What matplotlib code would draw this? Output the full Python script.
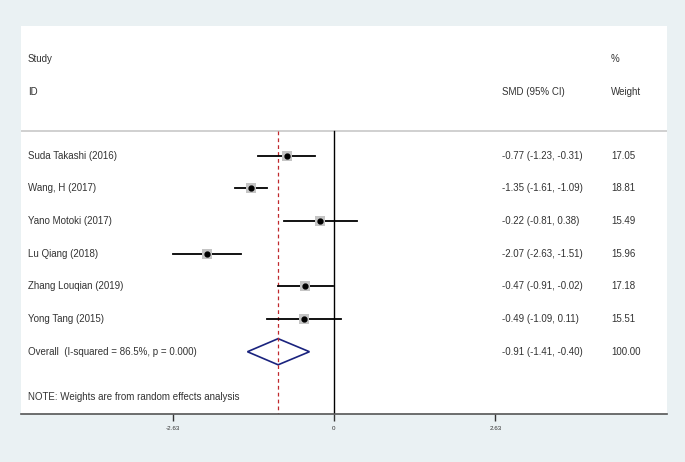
import matplotlib
matplotlib.use("Agg")
import matplotlib.pyplot as plt
from matplotlib.patches import Polygon
import numpy as np

plt.rcParams['font.family'] = ['Liberation Sans', 'DejaVu Sans']

# study data
studies = ["Suda Takashi (2016)", "Wang, H (2017)", "Yano Motoki (2017)",
           "Lu Qiang (2018)", "Zhang Louqian (2019)", "Yong Tang (2015)"]
smd = [-0.77, -1.35, -0.22, -2.07, -0.47, -0.49]
lo = [-1.23, -1.61, -0.81, -2.63, -0.91, -1.09]
hi = [-0.31, -1.09, 0.38, -1.51, -0.02, 0.11]
weights = [17.05, 18.81, 15.49, 15.96, 17.18, 15.51]

overall_label = "Overall  (I-squared = 86.5%, p = 0.000)"
overall = -0.91
overall_lo = -1.41
overall_hi = -0.40
overall_weight = 100.00

xticks = [-2.63, 0, 2.63]
xtick_labels = ["-2.63", "0", "2.63"]

bgColor = "#EAF1F3"
textColor = "#333333"
fontSize = 7

fig = plt.figure(figsize=(6.85, 4.62), dpi=100)
fig.patch.set_facecolor(bgColor)
ax = fig.add_axes([21 / 685, 48 / 462, 646 / 685, 388 / 462])
ax.set_facecolor("white")

# pixel mapping: 0 at x=334px, 61.4 px per unit
ax.set_xlim((21 - 334) / 61.4, (667 - 334) / 61.4)
ax.set_ylim(7.906, -3.97)

rows = np.arange(len(studies))
trans = ax.get_yaxis_transform()
col1, col2, col3 = 7 / 646, 481 / 646, 590 / 646
txt = dict(transform=trans, va="center", fontsize=fontSize, color=textColor)

# headers
ax.text(col1, -2.96, "Study", **txt)
ax.text(col1, -1.95, "ID", **txt)
ax.text(col2, -1.95, "SMD (95% CI)", **txt)
ax.text(col3, -2.96, "%", **txt)
ax.text(col3, -1.95, "Weight", **txt)
ax.axhline(-0.756, color="#C8C8C8", linewidth=1.2)

# reference lines
ax.plot([0, 0], [-0.756, 7.906], color="black", linewidth=1.0)
ax.plot([overall, overall], [-0.756, 7.906], color="#C0282D",
        linewidth=0.9, linestyle=(0, (3, 2.5)))

for i in rows:
    ax.plot([lo[i], hi[i]], [i, i], color="black", linewidth=1.3)
    ax.plot(smd[i], i, marker="s", markersize=7, color="#C4C4C4",
            markeredgewidth=0)
    ax.plot(smd[i], i, marker="o", markersize=3.5, color="black")
    ax.text(col1, i, studies[i], **txt)
    ax.text(col2, i, "%.2f (%.2f, %.2f)" % (smd[i], lo[i], hi[i]), **txt)
    ax.text(col3, i, "%.2f" % weights[i], **txt)

# overall diamond
yo = len(studies)
diamond = Polygon([[overall_lo, yo], [overall, yo - 0.4], [overall_hi, yo],
                   [overall, yo + 0.4]], closed=True, fill=False,
                  edgecolor="#1A237E", linewidth=1.2)
ax.add_patch(diamond)
ax.text(col1, yo, overall_label, **txt)
ax.text(col2, yo, "%.2f (%.2f, %.2f)" % (overall, overall_lo, overall_hi), **txt)
ax.text(col3, yo, "%.2f" % overall_weight, **txt)

ax.text(col1, yo + 1.4, "NOTE: Weights are from random effects analysis", **txt)

# axes styling
for s in ["top", "right", "left"]:
    ax.spines[s].set_visible(False)
ax.spines["bottom"].set_color("#555555")
ax.spines["bottom"].set_linewidth(1.2)
ax.set_yticks([])
ax.set_xticks(xticks)
ax.set_xticklabels(xtick_labels)
ax.tick_params(axis="x", length=5, width=1, color="#333333",
               labelsize=4.5, labelcolor=textColor, pad=4)

fig.savefig("out.png", dpi=100, facecolor=bgColor)
